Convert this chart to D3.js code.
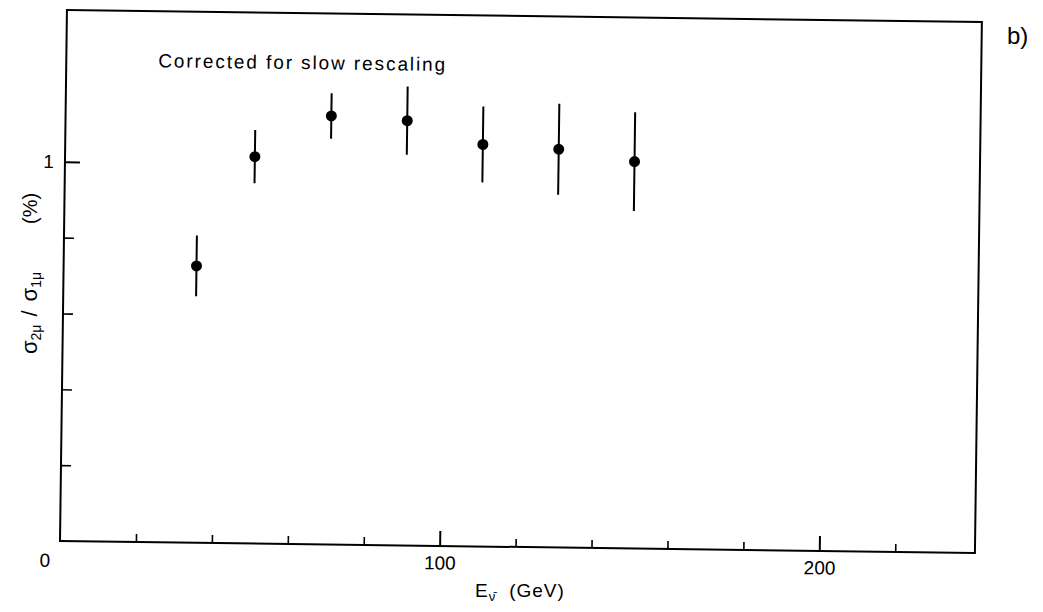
<!DOCTYPE html>
<html>
<head>
<meta charset="utf-8">
<script src="https://cdn.jsdelivr.net/npm/d3@7"></script>
<style>
  body { margin: 0; background: #fff; }
  text { font-family: "Liberation Sans", Arial, sans-serif; fill: #000; }
</style>
</head>
<body>
<svg class="e" width="1043" height="612"></svg>
<script>
// values
const energy   = [ 35, 50, 70, 90, 110, 130, 150 ];
const ratio    = [ 0.73, 1.02, 1.13, 1.12, 1.06, 1.05, 1.02 ];
const errLow   = [ 0.65, 0.95, 1.07, 1.03, 0.96, 0.93, 0.89 ];
const errHigh  = [ 0.81, 1.09, 1.19, 1.21, 1.16, 1.17, 1.15 ];

const xMinorTicks = [ 20, 40, 60, 80, 120, 140, 160, 180, 220 ];
const xMajorTicks = [ 100, 200 ];
const yMinorTicks = [ 0.2, 0.4, 0.6, 0.8 ];
const yMajorTicks = [ 1 ];
const xDomain = [ 0, 241 ];
const yDomain = [ 0, 1.4 ];

const points = energy.map( ( e, i ) => ( { e: e, r: ratio[i], lo: errLow[i], hi: errHigh[i] } ) );

function grafica( svg ){

  var iwidth = 915,
      iheight = 531;

  // the scan is slightly tilted, so the frame is too
  var g = svg.append( "g" )
    .attr( "transform", "translate(60,541) rotate(0.75)" );

  const x1 = d3.scaleLinear().domain( xDomain ).range( [ 0, iwidth ] );
  const y1 = d3.scaleLinear().domain( yDomain ).range( [ 0, -iheight ] );

  // frame
  g.append( "rect" )
    .attr( "x", 0 ).attr( "y", -iheight )
    .attr( "width", iwidth ).attr( "height", iheight )
    .attr( "fill", "none" )
    .attr( "stroke", "black" )
    .attr( "stroke-width", 2 );

  // x ticks (inside)
  g.append( "g" )
    .call( d3.axisBottom( x1 ).tickValues( xMinorTicks ).tickSize( -8 ).tickFormat( "" ) )
    .call( a => a.select( ".domain" ).remove() )
    .selectAll( "line" ).attr( "stroke-width", 1.6 );

  g.append( "g" )
    .call( d3.axisBottom( x1 ).tickValues( xMajorTicks ).tickSize( -15 ).tickPadding( 10 ) )
    .call( a => a.select( ".domain" ).remove() )
    .call( a => a.selectAll( "line" ).attr( "stroke-width", 2 ) )
    .selectAll( "text" )
    .attr( "font-size", 19 )
    .attr( "font-family", "Liberation Sans, Arial, sans-serif" );

  // y ticks (inside)
  g.append( "g" )
    .call( d3.axisLeft( y1 ).tickValues( yMinorTicks ).tickSize( -10 ).tickFormat( "" ) )
    .call( a => a.select( ".domain" ).remove() )
    .selectAll( "line" ).attr( "stroke-width", 1.6 );

  g.append( "g" )
    .call( d3.axisLeft( y1 ).tickValues( yMajorTicks ).tickSize( -15 ).tickPadding( 11 ).tickFormat( d3.format( "d" ) ) )
    .call( a => a.select( ".domain" ).remove() )
    .call( a => a.selectAll( "line" ).attr( "stroke-width", 2 ) )
    .selectAll( "text" )
    .attr( "font-size", 19 )
    .attr( "font-family", "Liberation Sans, Arial, sans-serif" );

  // the shared zero at the corner
  g.append( "text" )
    .attr( "x", x1( 0 ) - 15 )
    .attr( "y", y1( 0 ) + 26 )
    .attr( "text-anchor", "middle" )
    .attr( "font-size", 19 )
    .text( "0" );

  // error bars
  g.selectAll( ".err" )
    .data( points ).enter()
    .append( "line" )
    .attr( "class", "err" )
    .attr( "x1", d => x1( d.e ) )
    .attr( "x2", d => x1( d.e ) )
    .attr( "y1", d => y1( d.lo ) )
    .attr( "y2", d => y1( d.hi ) )
    .attr( "stroke", "black" )
    .attr( "stroke-width", 2 );

  g.selectAll( "circle" )
    .data( points ).enter()
    .append( "circle" )
    .attr( "cx", d => x1( d.e ) )
    .attr( "cy", d => y1( d.r ) )
    .attr( "r", 5.5 )
    .attr( "fill", "black" );

  g.append( "text" )
    .attr( "x", 92 )
    .attr( "y", -475 )
    .attr( "font-size", 19 )
    .attr( "textLength", 287 )
    .attr( "lengthAdjust", "spacing" )
    .text( "Corrected for slow rescaling" );

  // axis titles
  var xt = svg.append( "text" )
    .attr( "x", 475 )
    .attr( "y", 597 )
    .attr( "font-size", 19 );
  xt.append( "tspan" ).text( "E" );
  xt.append( "tspan" ).attr( "font-size", 13 ).attr( "dy", 4 ).attr( "dx", 1 ).text( "\u03bd\u0304" );
  xt.append( "tspan" ).attr( "dy", -4 ).attr( "dx", 14 ).attr( "letter-spacing", 1 ).text( "(GeV)" );

  var yt = svg.append( "text" )
    .attr( "transform", "translate(37,354) rotate(-90)" )
    .attr( "font-size", 22 );
  yt.append( "tspan" ).text( "\u03c3" );
  yt.append( "tspan" ).attr( "font-size", 14 ).attr( "dy", 4 ).text( "2\u03bc" );
  yt.append( "tspan" ).attr( "dy", -4 ).attr( "dx", 8 ).text( "/" );
  yt.append( "tspan" ).attr( "dx", 9 ).text( "\u03c3" );
  yt.append( "tspan" ).attr( "font-size", 14 ).attr( "dy", 4 ).text( "1\u03bc" );
  yt.append( "tspan" ).attr( "dy", -4 ).attr( "dx", 48 ).attr( "font-size", 20 ).text( "(%)" );

  svg.append( "text" )
    .attr( "x", 1007 )
    .attr( "y", 44 )
    .attr( "font-size", 24 )
    .text( "b)" );

  return svg.node();
}

grafica( d3.select( "svg.e" ) );
</script>
</body>
</html>
